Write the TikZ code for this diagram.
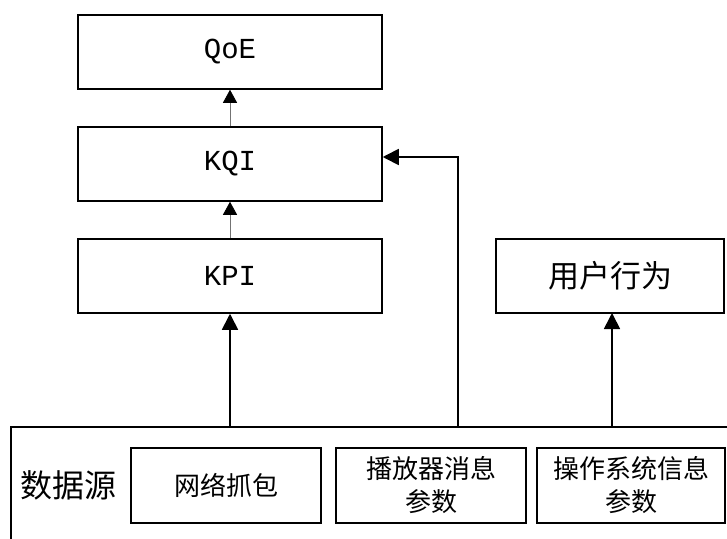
\documentclass[tikz,border=0pt]{standalone}
\usepackage{fontspec}
\setmonofont{Liberation Mono}
\newfontfamily\cjk{Noto Sans CJK SC}
\usetikzlibrary{arrows.meta}
\begin{document}
\begin{tikzpicture}[x=1pt,y=-1pt,
  bigbox/.style={draw,line width=1.5pt,minimum width=304pt,minimum height=74pt,inner sep=0pt,font=\ttfamily\fontsize{29}{29}\selectfont},
  userbox/.style={draw,line width=1.5pt,minimum width=228pt,minimum height=74pt,inner sep=0pt,font=\cjk\fontsize{31}{31}\selectfont},
  srcbox/.style={draw,line width=1.7pt,minimum width=190pt,minimum height=75pt,inner sep=0pt,align=center,font=\cjk\fontsize{26}{33}\selectfont},
  outerbox/.style={draw,line width=1.6pt,minimum width=760pt,minimum height=160pt,inner sep=0pt,anchor=north west},
  thinarrow/.style={draw=black!55,line width=0.8pt,-{Triangle[length=13pt,width=14pt,color=black]}},
  thickarrow/.style={draw=black,line width=1.7pt,-{Triangle[length=16pt,width=16pt]}}]
\useasboundingbox (0,0) rectangle (727,538);
\clip (0,0) rectangle (727,538);
\fill[white] (0,0) rectangle (727,538);
% upper boxes
\node[bigbox] (qoe) at (230,52) {QoE};
\node[bigbox] (kqi) at (230,164) {KQI};
\node[bigbox] (kpi) at (230,276) {KPI};
\node[userbox] (user) at (610,276) {用户行为};
% data source area
\node[outerbox] (src) at (10,426) {};
\node[font=\cjk\fontsize{32}{32}\selectfont] (srclabel) at (68,485) {数据源};
\node[srcbox] (net) at (226,485.5) {网络抓包};
\node[srcbox] (player) at (431,485.5) {播放器消息\\参数};
\node[srcbox,minimum width=188pt] (os) at (631,485.5) {操作系统信息\\参数};
% connectors
\draw[thinarrow] (kqi.north) -- (qoe.south);
\draw[thinarrow] (kpi.north) -- (kqi.south);
\draw[thickarrow] (src.north -| kpi.south) -- (kpi.south);
\coordinate (turn) at (458,157);
\draw[thickarrow] (src.north -| turn) -- (turn) -- (kqi.east |- turn);
\coordinate (userin) at (612,313);
\draw[thickarrow] (src.north -| userin) -- (userin);
\end{tikzpicture}
\end{document}
